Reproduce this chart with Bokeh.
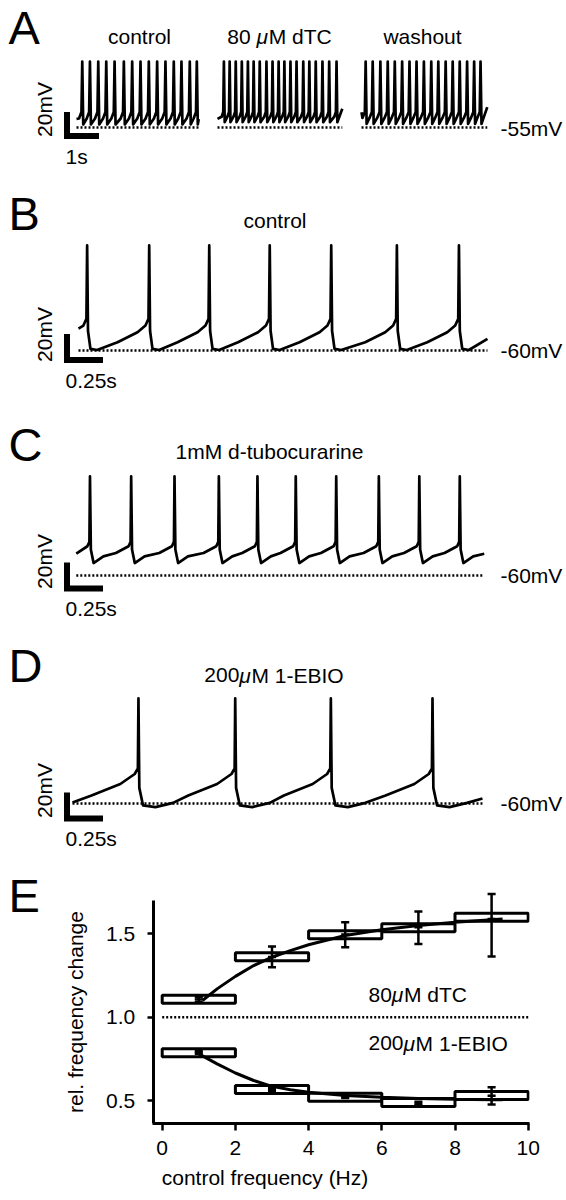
import math
from bokeh.plotting import figure
from bokeh.models import Range1d, Label, FixedTicker
from bokeh.layouts import column
from bokeh.embed import file_html
from bokeh.resources import INLINE

FONT = "Liberation Sans"
FSN = 21
FS = "21px"
LETTER_N = 47
W = 566

# ---------------- data ----------------
# Panel A: three sweeps; spike times (s) from the start of each sweep
a_titles = ["control", "80 μM dTC", "washout"]
a_ctrl_spikes = [0.18, 0.42, 0.68, 0.93, 1.19, 1.48, 1.74, 2.00, 2.26, 2.52, 2.78, 3.04, 3.28, 3.54, 3.76]
a_dtc_spikes = [0.20, 0.38, 0.57, 0.76, 0.95, 1.13, 1.32, 1.53, 1.72, 1.91, 2.09, 2.28, 2.47,
                2.68, 2.87, 3.07, 3.28, 3.49, 3.72]
a_wash_spikes = [0.13, 0.35, 0.59, 0.82, 1.04, 1.27, 1.50, 1.72, 1.95, 2.18, 2.40, 2.63, 2.85,
                 3.07, 3.30, 3.52, 3.72]
a_sweep_end = [3.82, 3.90, 3.93]          # s
a_v_start = [-47.8, -47.8, -42.3]         # mV
a_v_end = [-48.0, -39.4, -38.0]
a_v_peak = [0.0, 0.0, 0.0]
a_after = [[(0.03, -52.5)], [(0.025, -50.6)], [(0.03, -52.0)]]           # (s after spike, mV)
a_before = [[(0.10, -47.5), (0.025, -42.0)], [(0.07, -46.0), (0.02, -42.0)],
            [(0.10, -47.0), (0.025, -42.0)]]                             # (s before spike, mV)
a_rest = -55

# Panel B: control
b_spikes = [0.060, 0.491, 0.908, 1.328, 1.755, 2.211, 2.642]
b_end, b_v_start, b_v_end, b_v_peak = 2.840, -43.1, -51.0, 20.8
b_after = [(0.006, -45.0), (0.023, -58.7), (0.069, -59.6)]
b_before = [(0.22, -53.6), (0.081, -45.9), (0.026, -40.8), (0.005, -35.6)]

# Panel C: 1 mM d-tubocurarine
c_spikes = [0.095, 0.381, 0.682, 0.990, 1.258, 1.524, 1.805, 2.101, 2.382, 2.663]
c_end, c_v_start, c_v_end, c_v_peak = 2.833, -43.1, -43.3, 16.2
c_after = [(0.006, -40.0), (0.025, -50.4), (0.093, -45.3)]
c_before = [(0.106, -42.7), (0.018, -37.5), (0.004, -34.0)]

# Panel D: 200 uM 1-EBIO
d_spikes = [0.458, 1.130, 1.794, 2.500]
d_end, d_v_start, d_v_end, d_v_peak = 2.847, -59.2, -56.2, 20.8
d_after = [(0.006, -48.0), (0.032, -61.5), (0.118, -62.8), (0.24, -59.5)]
d_before = [(0.326, -53.8), (0.126, -45.0), (0.026, -37.3), (0.004, -33.0)]
bcd_rest = -60

bar_mv = 20
bar_s_a = 1.0
bar_s = 0.25

# Panel E
e_bin_left = [0, 2, 4, 6, 8]
e_bin_right = [2, 4, 6, 8, 10]
e_bin_center = [1, 3, 5, 7, 9]
dtc_box_bottom = [1.084, 1.339, 1.471, 1.513, 1.576]
dtc_box_top = [1.132, 1.387, 1.519, 1.561, 1.624]
dtc_mean = [1.106, 1.362, 1.496, 1.540, 1.590]
dtc_err_lo = [1.090, 1.300, 1.420, 1.440, 1.364]
dtc_err_hi = [1.120, 1.424, 1.570, 1.634, 1.740]
ebio_box_bottom = [0.762, 0.542, 0.496, 0.464, 0.506]
ebio_box_top = [0.810, 0.590, 0.544, 0.512, 0.554]
ebio_mean = [0.790, 0.564, 0.524, 0.480, 0.528]
ebio_err_lo = [0.780, 0.555, 0.515, 0.468, 0.476]
ebio_err_hi = [0.800, 0.573, 0.533, 0.492, 0.580]
dtc_fit_x = [1.1, 1.5, 2.0, 2.5, 3.0, 3.5, 4.0, 5.0, 6.0, 7.0, 8.0, 9.0, 9.3]
dtc_fit_y = [1.10, 1.17, 1.245, 1.31, 1.36, 1.40, 1.435, 1.49, 1.525, 1.55, 1.57, 1.585, 1.59]
ebio_fit_x = [1.0, 1.5, 2.0, 2.5, 3.0, 3.5, 4.0, 5.0, 6.0, 7.0, 8.0, 9.0, 9.3]
ebio_fit_y = [0.78, 0.72, 0.665, 0.62, 0.585, 0.565, 0.55, 0.53, 0.52, 0.512, 0.508, 0.505, 0.505]
e_xticks = [0, 2, 4, 6, 8, 10]
e_yticks = [0.5, 1.0, 1.5]
e_reference = 1.0

# ---------------- helpers ----------------
ARIAL_W = {' ': 278, '-': 333, '0': 556, '1': 556, '2': 556, '8': 556, 'B': 667, 'C': 722,
           'E': 667, 'I': 278, 'M': 833, 'O': 778, 'T': 611, 'd': 556, 'μ': 576}
MID = 0.355   # em distance from baseline to the middle anchor


def text_width(s, size=FSN):
    return sum(ARIAL_W.get(ch, 556) for ch in s) * size / 1000.0


def build_trace(spikes, t_end, v_start, v_end, v_peak, after, before):
    t, v = [0.0], [v_start]
    for i, ts in enumerate(spikes):
        for db, vb in before:
            tb = ts - db
            if tb > t[-1] + 1e-6:
                t.append(tb); v.append(vb)
        t.append(ts); v.append(v_peak)
        nxt = spikes[i + 1] if i + 1 < len(spikes) else t_end
        for da, va in after:
            ta = ts + da
            if ta < nxt - 1e-6:
                t.append(ta); v.append(va)
    t.append(t_end); v.append(v_end)
    return t, v


def make_panel(top, height, t0x, S, vref, vref_y, M):
    xs = -t0x / S
    xe = xs + W / S
    ye = vref + (vref_y - top) / M
    ys = ye - height / M
    p = figure(width=W, height=height, x_range=Range1d(xs, xe), y_range=Range1d(ys, ye),
               output_backend="svg", toolbar_location=None, min_border=0,
               x_axis_location=None, y_axis_location=None, outline_line_color=None, title=None)
    p.frame_align = False
    p.grid.visible = False
    fx = lambda px: (px - t0x) / S
    fy = lambda py: vref + (vref_y - py) / M
    return p, fx, fy


def label(p, fx, fy, px, base_y, text, size=FSN, align="left", style="normal"):
    """Place text so that its baseline sits at page y base_y."""
    p.add_layout(Label(x=fx(px), y=fy(base_y - MID * size), text=text, text_font=FONT,
                       text_font_size=f"{size}px", text_align=align, text_baseline="middle",
                       text_font_style=style, text_color="black"))


def seg_label(p, fx, fy, px, base_y, segs, center=True):
    total = sum(text_width(s) for s, _ in segs)
    x = px - total / 2 if center else px
    for s, it in segs:
        label(p, fx, fy, x, base_y, s, style="italic" if it else "normal")
        x += text_width(s)


def scale_bar(p, fx, fy, cx, cy, bar_t, ylab_dy, xlab, xlab_base_dy):
    x0, y0 = fx(cx), fy(cy)
    p.line([x0, x0, x0 + bar_t], [y0 + bar_mv, y0, y0], line_width=6, line_color="black",
           line_join="miter", line_cap="butt")
    p.add_layout(Label(x=fx(cx - 22.5), y=fy(cy + ylab_dy), text="20mV", text_font=FONT,
                       text_font_size=FS, text_align="center", text_baseline="middle",
                       angle=math.pi / 2, text_color="black"))
    label(p, fx, fy, cx - 1.5, cy + xlab_base_dy, xlab)


def trace(p, t, v, offset=0.0):
    p.line([ti + offset for ti in t], v, line_width=2.7, line_color="black", line_join="round")


def dotted(p, x0, x1, y):
    p.line([x0, x1], [y, y], line_width=2.5, line_color="black", line_dash="2 2")


def letter(p, fx, fy, base_y, ch):
    label(p, fx, fy, 8, base_y, ch, size=LETTER_N)


# ---------------- panel A ----------------
SA = 32.0
pA, fxA, fyA = make_panel(0, 172, 76, SA, a_rest, 127, 1.2)
a_offsets = [0.0, (217 - 76) / SA, (361 - 76) / SA]
a_spike_sets = [a_ctrl_spikes, a_dtc_spikes, a_wash_spikes]
for k in range(3):
    t, v = build_trace(a_spike_sets[k], a_sweep_end[k], a_v_start[k], a_v_end[k], a_v_peak[k],
                       a_after[k], a_before[k])
    dotted(pA, a_offsets[k], a_offsets[k] + a_sweep_end[k], a_rest)
    trace(pA, t, v, a_offsets[k])
letter(pA, fxA, fyA, 44, "A")
label(pA, fxA, fyA, 139, 43, a_titles[0], align="center")
seg_label(pA, fxA, fyA, 279, 43, [("80 ", False), ("μ", True), ("M dTC", False)])
label(pA, fxA, fyA, 422, 43, a_titles[2], align="center")
label(pA, fxA, fyA, 500, 135, "-55mV")
scale_bar(pA, fxA, fyA, 66.5, 135.5, bar_s_a, -26.5, "1s", 27.5)

# ---------------- panel B ----------------
S = 144.0
pB, fxB, fyB = make_panel(172, 225, 78, S, bcd_rest, 350, 1.3)
t, v = build_trace(b_spikes, b_end, b_v_start, b_v_end, b_v_peak, b_after, b_before)
dotted(pB, 0.0, b_end, bcd_rest)
trace(pB, t, v)
letter(pB, fxB, fyB, 230, "B")
label(pB, fxB, fyB, 274.5, 227, "control", align="center")
label(pB, fxB, fyB, 500, 357.5, "-60mV")
scale_bar(pB, fxB, fyB, 66.5, 359.5, bar_s, -25.5, "0.25s", 27.5)

# ---------------- panel C ----------------
pC, fxC, fyC = make_panel(397, 227, 75.8, S, bcd_rest, 575, 1.3)
t, v = build_trace(c_spikes, c_end, c_v_start, c_v_end, c_v_peak, c_after, c_before)
dotted(pC, 0.0, c_end, bcd_rest)
trace(pC, t, v)
letter(pC, fxC, fyC, 461, "C")
label(pC, fxC, fyC, 269, 458, "1mM d-tubocurarine", align="center")
label(pC, fxC, fyC, 500, 582.5, "-60mV")
scale_bar(pC, fxC, fyC, 66.5, 588, bar_s, -27, "0.25s", 27.5)

# ---------------- panel D ----------------
pD, fxD, fyD = make_panel(624, 232, 72, S, bcd_rest, 803, 1.3)
t, v = build_trace(d_spikes, d_end, d_v_start, d_v_end, d_v_peak, d_after, d_before)
dotted(pD, 0.0, d_end, bcd_rest)
trace(pD, t, v)
letter(pD, fxD, fyD, 682, "D")
seg_label(pD, fxD, fyD, 273.5, 682, [("200", False), ("μ", True), ("M 1-EBIO", False)])
label(pD, fxD, fyD, 500, 810.5, "-60mV")
scale_bar(pD, fxD, fyD, 66.5, 818, bar_s, -28, "0.25s", 27.5)

# ---------------- panel E ----------------
EX0, EXS = 161.7, 36.6       # page x of 0 Hz, px per Hz
EY1, EYS = 1016.7, 166.6     # page y of 1.0, px per unit
ETOP, EH = 856, 343
fxE = lambda px: (px - EX0) / EXS
fyE = lambda py: 1.0 + (EY1 - py) / EYS
pE = figure(width=W, height=EH,
            x_range=Range1d(fxE(0), fxE(529)), y_range=Range1d(fyE(1123), fyE(ETOP)),
            output_backend="svg", toolbar_location=None, title=None,
            min_border_left=0, min_border_right=W - 529, min_border_top=0,
            min_border_bottom=ETOP + EH - 1123, outline_line_color=None)
pE.frame_align = False
pE.grid.visible = False
for ax in (pE.xaxis[0], pE.yaxis[0]):
    ax.axis_line_width = 3
    ax.axis_line_color = "black"
    ax.major_tick_line_width = 2.5
    ax.major_tick_line_color = "black"
    ax.major_tick_in = 0
    ax.minor_tick_line_color = None
    ax.major_label_text_font = FONT
    ax.major_label_text_font_size = FS
    ax.major_label_text_color = "black"
    ax.axis_label_text_font = FONT
    ax.axis_label_text_font_size = FS
    ax.axis_label_text_font_style = "normal"
    ax.axis_label_text_color = "black"
pE.xaxis.ticker = FixedTicker(ticks=e_xticks)
pE.xaxis.major_tick_out = 7
pE.xaxis.major_label_standoff = 10
pE.xaxis.axis_label = "control frequency (Hz)"
pE.xaxis.axis_label_standoff = 8
pE.xaxis.bounds = (fxE(151.6), fxE(529))
pE.yaxis.ticker = FixedTicker(ticks=e_yticks)
pE.yaxis.major_label_overrides = {0.5: "0.5", 1.0: "1.0", 1.5: "1.5"}
pE.yaxis.major_tick_out = 6
pE.yaxis.major_label_standoff = 12
pE.yaxis.axis_label = "rel. frequency change"
pE.yaxis.axis_label_standoff = 16
pE.yaxis.bounds = (fyE(1123), fyE(900))
pE.yaxis.fixed_location = fxE(152.7)

pE.line([e_xticks[0], e_xticks[-1]], [e_reference, e_reference], line_width=2.5,
        line_color="black", line_dash="2 2")
for bb, bt in ((dtc_box_bottom, dtc_box_top), (ebio_box_bottom, ebio_box_top)):
    pE.quad(left=e_bin_left, right=e_bin_right, bottom=bb, top=bt, fill_color="white",
            line_color="black", line_width=3)
pE.line(dtc_fit_x, dtc_fit_y, line_width=3, line_color="black")
pE.line(ebio_fit_x, ebio_fit_y, line_width=3, line_color="black")
cap = 0.11
for m, lo, hi in ((dtc_mean, dtc_err_lo, dtc_err_hi), (ebio_mean, ebio_err_lo, ebio_err_hi)):
    pE.segment(x0=e_bin_center, x1=e_bin_center, y0=lo, y1=hi, line_width=2.5, line_color="black")
    for ys in (lo, hi, m):
        pE.segment(x0=[c - cap for c in e_bin_center], x1=[c + cap for c in e_bin_center],
                   y0=ys, y1=ys, line_width=2.5, line_color="black")
letter(pE, fxE, fyE, 912, "E")
seg_label(pE, fxE, fyE, 368, 1001.7, [("80", False), ("μ", True), ("M dTC", False)], center=False)
seg_label(pE, fxE, fyE, 368, 1050, [("200", False), ("μ", True), ("M 1-EBIO", False)], center=False)

layout = column(pA, pB, pC, pD, pE, spacing=0)
open("out.html", "w").write(file_html(layout, INLINE))
